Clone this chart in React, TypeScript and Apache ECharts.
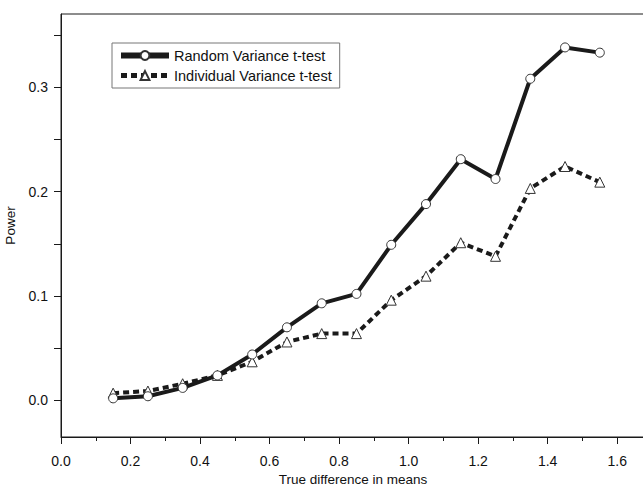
import React, { useEffect, useRef } from "react";
import * as echarts from "echarts";

// True difference in means (x) for each simulated setting
const diffs = [0.15, 0.25, 0.35, 0.45, 0.55, 0.65, 0.75, 0.85, 0.95, 1.05, 1.15, 1.25, 1.35, 1.45, 1.55];

// Estimated power of each test
const randomVariance = [0.002, 0.004, 0.012, 0.024, 0.044, 0.07, 0.093, 0.102, 0.149, 0.188, 0.231, 0.212, 0.308, 0.338, 0.333];
const individualVariance = [0.007, 0.009, 0.016, 0.024, 0.037, 0.056, 0.064, 0.064, 0.096, 0.119, 0.151, 0.138, 0.203, 0.224, 0.209];

const seriesNames = ["Random Variance t-test", "Individual Variance t-test"];

// Axis tick positions
const yLabelValues = [0, 0.1, 0.2, 0.3];
const yTickValues = [0, 0.05, 0.1, 0.15, 0.2, 0.25, 0.3, 0.35];

const FONT = "'Liberation Sans', Arial, sans-serif";
const INK = "#1a1a1a";
const DASH = [6, 4];

export default function App() {
  const ref = useRef<HTMLDivElement>(null);

  useEffect(() => {
    document.body.style.margin = "0";
    if (!ref.current) return;
    const chart = echarts.init(ref.current, null, { renderer: "svg" });

    const pairs = (ys: number[]) => diffs.map((x, i) => [x, ys[i]]);

    chart.setOption({
      animation: false,
      backgroundColor: "#ffffff",
      // plot frame; its right edge sits just past the page
      grid: {
        left: 61,
        top: 14,
        right: -2,
        bottom: 51,
        containLabel: false,
        outerBoundsMode: "none",
        show: true,
        borderColor: INK,
        borderWidth: 1,
        backgroundColor: "transparent",
      },
      legend: {
        left: 112,
        top: 43,
        orient: "vertical",
        itemWidth: 48,
        itemHeight: 11,
        itemGap: 5,
        padding: [5, 8, 5, 6],
        borderColor: "#777",
        borderWidth: 1,
        data: [
          { name: seriesNames[0], lineStyle: { width: 6, color: INK } },
          { name: seriesNames[1], lineStyle: { width: 5, color: INK, type: DASH } },
        ],
        textStyle: { fontFamily: FONT, fontSize: 14.5, color: "#111" },
      },
      xAxis: {
        type: "value",
        min: 0,
        max: 1.68,
        interval: 0.2,
        name: "True difference in means",
        nameLocation: "middle",
        nameGap: 35,
        nameTextStyle: { fontFamily: FONT, fontSize: 13.5, color: "#111" },
        axisLine: { show: true, onZero: false, lineStyle: { color: INK, width: 1 } },
        axisTick: { show: true, length: 7, lineStyle: { color: INK } },
        minorTick: { show: true, splitNumber: 2, length: 4, lineStyle: { color: INK } },
        splitLine: { show: false },
        axisLabel: {
          margin: 17,
          showMaxLabel: false,
          fontFamily: FONT,
          fontSize: 14,
          color: "#111",
          formatter: (v: number) => v.toFixed(1),
        },
      },
      yAxis: {
        type: "value",
        min: -0.035,
        max: 0.37,
        name: "Power",
        nameLocation: "middle",
        nameGap: 40,
        nameTextStyle: { fontFamily: FONT, fontSize: 13.5, color: "#111" },
        axisLine: { show: true, onZero: false, lineStyle: { color: INK, width: 1 } },
        axisTick: { show: true, length: 7, customValues: yTickValues, lineStyle: { color: INK } },
        splitLine: { show: false },
        axisLabel: {
          margin: 13,
          fontFamily: FONT,
          fontSize: 14,
          color: "#111",
          customValues: yLabelValues,
          formatter: (v: number) => v.toFixed(1),
        },
      },
      series: [
        {
          name: seriesNames[1],
          type: "line",
          data: pairs(individualVariance),
          symbol: "triangle",
          symbolSize: 10,
          lineStyle: { color: INK, width: 4, type: DASH },
          itemStyle: { color: "#ffffff", borderColor: "#333", borderWidth: 1 },
          z: 2,
        },
        {
          name: seriesNames[0],
          type: "line",
          data: pairs(randomVariance),
          symbol: "circle",
          symbolSize: 9,
          lineStyle: { color: INK, width: 4 },
          itemStyle: { color: "#ffffff", borderColor: "#333", borderWidth: 1 },
          z: 3,
        },
      ],
    });

    return () => chart.dispose();
  }, []);

  return (
    <div
      ref={ref}
      style={{ position: "absolute", left: 0, top: 0, width: 643, height: 488, background: "#fff" }}
    />
  );
}
